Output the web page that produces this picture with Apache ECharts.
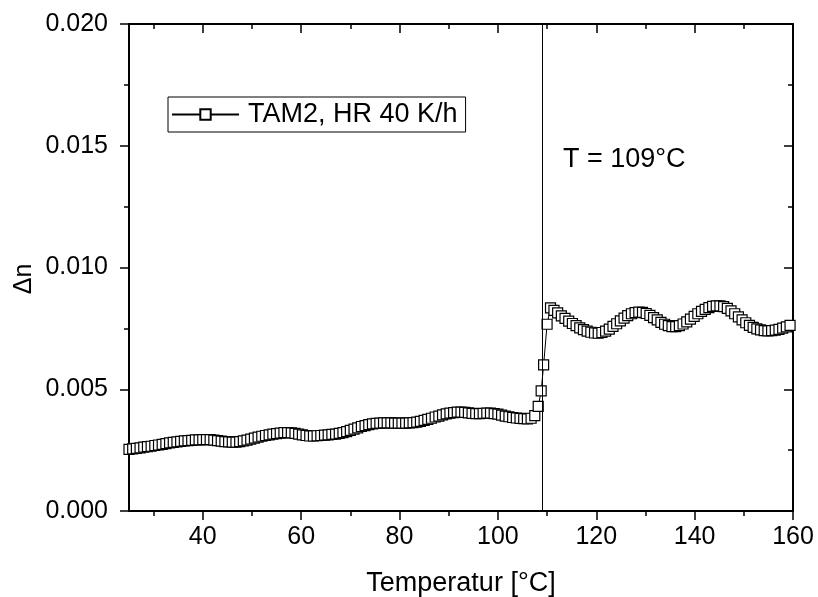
<!DOCTYPE html>
<html>
<head>
<meta charset="utf-8">
<script src="https://cdn.jsdelivr.net/npm/echarts@6/dist/echarts.min.js"></script>
<style>html,body{margin:0;padding:0;background:#fff}#c{width:818px;height:597px}</style>
</head>
<body>
<div id="c"></div>
<script>
const seriesName = 'TAM2, HR 40 K/h';
const temps = [
  25.00,25.75,26.50,27.25,28.00,28.75,29.50,30.25,31.00,31.75,32.50,33.25,34.00,34.75,35.50,36.25,37.00,37.75,38.50,39.25,
  40.00,40.75,41.50,42.25,43.00,43.75,44.50,45.25,46.00,46.75,47.50,48.25,49.00,49.75,50.50,51.25,52.00,52.75,53.50,54.25,
  55.00,55.75,56.50,57.25,58.00,58.75,59.50,60.25,61.00,61.75,62.50,63.25,64.00,64.75,65.50,66.25,67.00,67.75,68.50,69.25,
  70.00,70.75,71.50,72.25,73.00,73.75,74.50,75.25,76.00,76.75,77.50,78.25,79.00,79.75,80.50,81.25,82.00,82.75,83.50,84.25,
  85.00,85.75,86.50,87.25,88.00,88.75,89.50,90.25,91.00,91.75,92.50,93.25,94.00,94.75,95.50,96.25,97.00,97.75,98.50,99.25,
  100.00,100.75,101.50,102.25,103.00,103.75,104.50,105.25,106.00,106.75,107.50,108.20,108.80,109.30,110.00,110.70,
  111.40,112.15,112.90,113.65,114.40,115.15,115.90,116.65,117.40,118.15,118.90,119.65,120.40,121.15,121.90,122.65,123.40,124.15,124.90,125.65,
  126.40,127.15,127.90,128.65,129.40,130.15,130.90,131.65,132.40,133.15,133.90,134.65,135.40,136.15,136.90,137.65,138.40,139.15,139.90,140.65,
  141.40,142.15,142.90,143.65,144.40,145.15,145.90,146.65,147.40,148.15,148.90,149.65,150.40,151.15,151.90,152.65,153.40,154.15,154.90,155.65,
  156.40,157.15,157.90,158.65,159.40
];
const dn = [
  0.00253,0.00255,0.00257,0.00259,0.00262,0.00264,0.00266,0.00269,0.00271,0.00274,0.00277,0.00280,0.00282,0.00284,0.00286,0.00288,0.00289,0.00290,0.00292,0.00292,
  0.00293,0.00293,0.00293,0.00291,0.00289,0.00287,0.00285,0.00284,0.00283,0.00283,0.00285,0.00288,0.00291,0.00295,0.00299,0.00303,0.00307,0.00310,0.00313,0.00316,
  0.00318,0.00320,0.00322,0.00322,0.00321,0.00319,0.00316,0.00313,0.00310,0.00308,0.00308,0.00309,0.00310,0.00312,0.00313,0.00315,0.00316,0.00319,0.00322,0.00326,
  0.00331,0.00336,0.00341,0.00347,0.00351,0.00355,0.00358,0.00360,0.00361,0.00362,0.00362,0.00362,0.00361,0.00361,0.00361,0.00361,0.00362,0.00363,0.00365,0.00368,
  0.00372,0.00376,0.00381,0.00386,0.00390,0.00395,0.00399,0.00402,0.00404,0.00406,0.00406,0.00405,0.00403,0.00401,0.00400,0.00400,0.00401,0.00402,0.00402,0.00400,
  0.00398,0.00394,0.00390,0.00387,0.00384,0.00382,0.00380,0.00379,0.00378,0.00381,0.00392,0.00430,0.00493,0.00600,0.00767,0.00834,
  0.00824,0.00814,0.00801,0.00791,0.00780,0.00770,0.00761,0.00752,0.00745,0.00739,0.00734,0.00731,0.00730,0.00733,0.00739,0.00747,0.00758,0.00769,0.00781,0.00792,
  0.00802,0.00810,0.00815,0.00817,0.00816,0.00811,0.00803,0.00794,0.00785,0.00775,0.00767,0.00761,0.00757,0.00757,0.00761,0.00768,0.00777,0.00788,0.00799,0.00810,
  0.00820,0.00828,0.00835,0.00840,0.00842,0.00842,0.00839,0.00832,0.00822,0.00810,0.00797,0.00785,0.00773,0.00762,0.00754,0.00748,0.00744,0.00741,0.00740,0.00741,
  0.00743,0.00746,0.00751,0.00756,0.00762
];
const transitionT = 109;
const xMajorTicks = [40,60,80,100,120,140,160];
const xMinorTicks = [30,50,70,90,110,130,150];
const yMin = 0, yMax = 0.02, yInterval = 0.005;

const FONT = 'Liberation Sans, Arial, sans-serif';
const data = temps.map((t,i)=>[t, dn[i]]);
const axisCol = '#000';

function xAx(pos, ticks, len, inside, showLine, showLabel) {
  return {
    type:'value', position:pos, min:25, max:160,
    axisLine:{show:showLine, onZero:false, lineStyle:{color:axisCol,width:2}},
    axisTick:{show:true, inside:inside, length:len, customValues:ticks, lineStyle:{color:axisCol,width:1.5}},
    axisLabel:showLabel ? {show:true, customValues:ticks, fontSize:25, color:'#000', fontFamily:FONT, margin:14} : {show:false},
    splitLine:{show:false}
  };
}
function yAx(pos, inside, showLabel) {
  return {
    type:'value', position:pos, min:yMin, max:yMax, interval:yInterval,
    axisLine:{show:true, onZero:false, lineStyle:{color:axisCol,width:2}},
    axisTick:{show:true, inside:inside, length:9, lineStyle:{color:axisCol,width:1.5}},
    minorTick:{show:true, splitNumber:2, length:5, lineStyle:{color:axisCol,width:1.5}},
    axisLabel:showLabel ? {show:true, fontSize:25, color:'#000', fontFamily:FONT, margin:21, formatter:v=>v.toFixed(3)} : {show:false},
    splitLine:{show:false}, minorSplitLine:{show:false}
  };
}

const xMain = xAx('bottom', xMajorTicks, 9, false, true, true);
xMain.name = 'Temperatur [°C]';
xMain.nameLocation = 'middle';
xMain.nameGap = 59;
xMain.nameTextStyle = {fontSize:27, color:'#000', fontFamily:FONT};

const chart = echarts.init(document.getElementById('c'), null, {renderer:'canvas'});
chart.setOption({
  animation:false,
  backgroundColor:'#fff',
  grid:{left:129, right:25, top:24, bottom:86, containLabel:false, outerBoundsMode:'none'},
  xAxis:[
    xMain,
    xAx('bottom', xMinorTicks, 5, false, false, false),
    xAx('top', xMajorTicks, 9, true, true, false),
    xAx('top', xMinorTicks, 5, true, false, false)
  ],
  yAxis:[ yAx('left', false, true), yAx('right', true, false) ],
  legend:{
    left:168, top:97, orient:'horizontal',
    borderColor:'#000', borderWidth:1, borderRadius:0,
    padding:[4,8,4,3], itemWidth:67, itemHeight:13,
    textStyle:{fontSize:27, color:'#000', fontFamily:FONT, padding:[0,0,0,4]},
    data:[seriesName]
  },
  graphic:[
    {type:'text', x:24, y:279, rotation:Math.PI/2,
     style:{text:'Δn', font:'25px ' + FONT, fill:'#000', align:'center', verticalAlign:'middle'}},
    {type:'text', x:563, y:160,
     style:{text:'T = 109°C', font:'27px ' + FONT, fill:'#000', align:'left', verticalAlign:'middle'}}
  ],
  series:[{
    name:seriesName, type:'line', xAxisIndex:0, yAxisIndex:0,
    data:data, symbol:'rect', symbolSize:10, showSymbol:true,
    itemStyle:{color:'#fff', borderColor:'#000', borderWidth:1.2},
    lineStyle:{color:'#000', width:1},
    markLine:{silent:true, symbol:'none', label:{show:false},
      lineStyle:{color:'#000', width:1, type:'solid'},
      data:[{xAxis:transitionT}]}
  }]
});
</script>
</body>
</html>
